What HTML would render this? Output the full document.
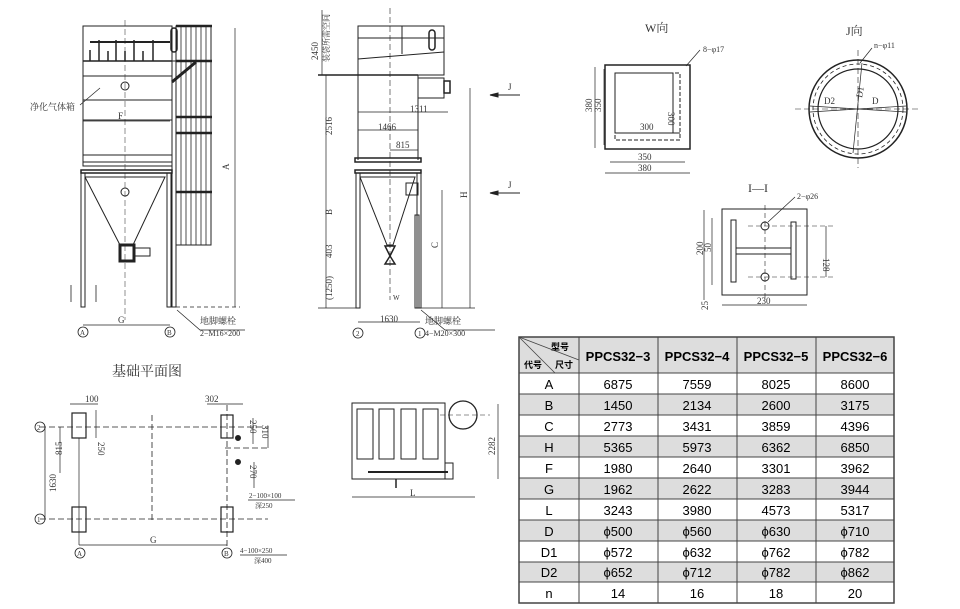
<!DOCTYPE html>
<html><head><meta charset="utf-8"><style>
html,body{margin:0;padding:0;background:#fff;width:960px;height:609px;overflow:hidden}
svg{display:block}
text{font-family:"Liberation Serif","Noto Serif CJK SC",serif;fill:#333}
.t{font-family:"Liberation Sans","Noto Sans CJK SC",sans-serif;fill:#000}
</style></head><body>
<svg width="960" height="609" viewBox="0 0 960 609" xmlns="http://www.w3.org/2000/svg">
<g stroke="#222" fill="none" stroke-width="1">
<!-- FRONT VIEW -->
<rect x="83" y="26" width="89" height="140"/>
<line x1="83" y1="61" x2="172" y2="61" stroke-width="1.5"/>
<line x1="83" y1="76" x2="172" y2="76"/>
<line x1="83" y1="100" x2="172" y2="100"/>
<line x1="83" y1="120" x2="172" y2="120"/>
<line x1="83" y1="155" x2="172" y2="155"/>
<line x1="83" y1="162" x2="172" y2="162"/>
<line x1="90" y1="42" x2="170" y2="42" stroke-width="2"/>
<g stroke-width="1.5"><line x1="99" y1="40" x2="99" y2="61"/><line x1="116" y1="40" x2="116" y2="61"/><line x1="134" y1="40" x2="134" y2="61"/><line x1="153" y1="40" x2="153" y2="61"/>
<line x1="90" y1="50" x2="90" y2="61"/><line x1="108" y1="51" x2="108" y2="61"/><line x1="125" y1="51" x2="125" y2="61"/><line x1="143" y1="51" x2="143" y2="61"/></g>
<rect x="171" y="28" width="6" height="24" rx="3" stroke-width="1.5"/>
<circle cx="125" cy="86" r="4"/><circle cx="125" cy="192" r="4"/>
<rect x="81" y="170" width="91" height="3" stroke-width="1.5"/>
<rect x="81" y="173" width="4" height="134"/><rect x="167" y="173" width="4" height="134"/>
<polyline points="85,177 165,177 133,245 120,245 85,177"/>
<rect x="120" y="245" width="14" height="16" stroke-width="3"/>
<rect x="135" y="248" width="15" height="8"/>
<rect x="176" y="26" width="35" height="219"/>
<g stroke-width="0.8"><line x1="181" y1="26" x2="181" y2="245"/><line x1="186" y1="26" x2="186" y2="245"/><line x1="191" y1="26" x2="191" y2="245"/><line x1="196" y1="26" x2="196" y2="245"/><line x1="201" y1="26" x2="201" y2="245"/><line x1="206" y1="26" x2="206" y2="245"/></g>
<g stroke-width="2.5"><line x1="176" y1="61" x2="212" y2="61"/><line x1="176" y1="117" x2="212" y2="117"/><line x1="176" y1="133" x2="212" y2="133"/><line x1="176" y1="192" x2="212" y2="192"/><line x1="176" y1="26" x2="212" y2="26"/></g>
<line x1="172" y1="82" x2="196" y2="62" stroke-width="3"/>
<rect x="172" y="61" width="4" height="246"/>
<line x1="235" y1="28" x2="235" y2="307" stroke-width="0.7"/>
<line x1="176" y1="307" x2="240" y2="307" stroke-dasharray="4,3" stroke-width="0.7"/>
<line x1="83" y1="325" x2="170" y2="325" stroke-width="0.7"/>
<line x1="83" y1="121" x2="170" y2="121" stroke-width="0.7"/>
<circle cx="83" cy="332" r="5" stroke-width="0.8"/><circle cx="170" cy="332" r="5" stroke-width="0.8"/>
<polyline points="177,310 200,330 245,330" stroke-width="0.7"/>
<line x1="80" y1="105" x2="100" y2="88" stroke-width="0.7"/>
<polyline points="71,285 71,302" stroke-width="0.8"/><polyline points="96,285 96,302" stroke-width="0.8"/>
<line x1="125" y1="20" x2="125" y2="320" stroke-dasharray="6,3" stroke-width="0.5"/>

<!-- SIDE VIEW -->
<rect x="358" y="26" width="86" height="49"/>
<line x1="358" y1="38" x2="444" y2="38"/><line x1="358" y1="59" x2="444" y2="52"/>
<line x1="402" y1="26" x2="402" y2="54"/>
<rect x="429" y="30" width="6" height="20" rx="3" stroke-width="1.5"/>
<line x1="318" y1="75" x2="418" y2="75" stroke-width="1.5"/>
<line x1="358" y1="75" x2="358" y2="160"/><line x1="418" y1="75" x2="418" y2="160"/>
<polyline points="418,78 444,78 444,98 418,98"/>
<rect x="444" y="81" width="6" height="12" stroke-width="1.5"/>
<rect x="355" y="158" width="66" height="4" stroke-width="1.5"/>
<rect x="355" y="170" width="66" height="3" stroke-width="1.5"/>
<rect x="356" y="173" width="4" height="135"/><rect x="417" y="173" width="4" height="135"/>
<polyline points="360,177 415,177 393,245 387,245 360,177"/>
<path d="M385,246 h10 l-5,10 l5,8 h-10 l5,-8 z" stroke-width="1.5"/>
<rect x="406" y="183" width="12" height="12"/>
<rect x="415" y="215" width="4" height="93"/>
<line x1="390" y1="8" x2="390" y2="300" stroke-dasharray="6,3" stroke-width="0.6"/>
<line x1="470" y1="88" x2="470" y2="308" stroke-width="0.7"/>
<line x1="442" y1="190" x2="442" y2="308" stroke-width="0.7"/>
<line x1="421" y1="308" x2="475" y2="308" stroke-width="0.7"/>
<line x1="326" y1="75" x2="326" y2="308" stroke-width="0.7"/>
<line x1="318" y1="308" x2="356" y2="308" stroke-width="0.7"/>
<line x1="322" y1="10" x2="322" y2="75" stroke-width="0.7"/>
<line x1="358" y1="112" x2="448" y2="112" stroke-width="0.7"/>
<line x1="358" y1="130" x2="418" y2="130" stroke-width="0.7"/>
<line x1="390" y1="150" x2="418" y2="150" stroke-width="0.7"/>
<line x1="358" y1="322" x2="420" y2="322" stroke-width="0.7"/>
<circle cx="358" cy="333" r="5" stroke-width="0.8"/><circle cx="420" cy="333" r="5" stroke-width="0.8"/>
<polyline points="421,310 445,330 495,330" stroke-width="0.7"/>
<line x1="490" y1="95" x2="520" y2="95"/><line x1="490" y1="193" x2="520" y2="193"/>
<polygon points="490,95 498,93 498,97" fill="#222"/><polygon points="490,193 498,191 498,195" fill="#222"/>

<!-- W view -->
<rect x="605" y="65" width="85" height="84" stroke-width="1.5"/>
<rect x="615" y="73" width="65" height="67" stroke-dasharray="4,2"/>
<rect x="615" y="73" width="58" height="60"/>
<line x1="615" y1="133" x2="680" y2="133"/>
<line x1="595" y1="67" x2="595" y2="148" stroke-width="0.7"/><line x1="604" y1="69" x2="604" y2="145" stroke-width="0.7"/>
<line x1="610" y1="162" x2="685" y2="162" stroke-width="0.7"/><line x1="605" y1="173" x2="690" y2="173" stroke-width="0.7"/>
<line x1="686" y1="66" x2="700" y2="50" stroke-width="0.7"/>
<!-- J view -->
<circle cx="858" cy="109" r="49" stroke-width="1.5"/><circle cx="858" cy="109" r="40" stroke-width="1.2"/>
<circle cx="858" cy="109" r="45" stroke-dasharray="4,3" stroke-width="0.8"/>
<line x1="795" y1="109" x2="920" y2="109" stroke-dasharray="6,3" stroke-width="0.6"/>
<line x1="858" y1="50" x2="858" y2="168" stroke-dasharray="6,3" stroke-width="0.6"/>
<line x1="862" y1="63" x2="853" y2="153" stroke-width="0.7"/>
<line x1="810" y1="106" x2="906" y2="112" stroke-width="0.7"/><line x1="810" y1="112" x2="906" y2="106" stroke-width="0.7"/>
<line x1="860" y1="63" x2="872" y2="48" stroke-width="0.7"/>
<!-- I-I -->
<rect x="722" y="209" width="85" height="86"/>
<rect x="731" y="220" width="5" height="62"/><rect x="791" y="222" width="5" height="57"/>
<rect x="736" y="248" width="55" height="6"/>
<circle cx="765" cy="226" r="4"/><circle cx="765" cy="277" r="4"/>
<line x1="765" y1="205" x2="765" y2="300" stroke-dasharray="5,3" stroke-width="0.6"/>
<line x1="748" y1="226" x2="835" y2="226" stroke-dasharray="5,3" stroke-width="0.6"/><line x1="748" y1="277" x2="835" y2="277" stroke-dasharray="5,3" stroke-width="0.6"/>
<line x1="704" y1="210" x2="704" y2="300" stroke-width="0.7"/><line x1="712" y1="218" x2="712" y2="285" stroke-width="0.7"/>
<line x1="826" y1="226" x2="826" y2="277" stroke-width="0.7"/>
<line x1="722" y1="305" x2="807" y2="305" stroke-width="0.7"/>
<line x1="768" y1="222" x2="795" y2="197" stroke-width="0.7"/>

<!-- FOUNDATION -->
<g stroke-dasharray="6,3" stroke-width="0.8">
<line x1="40" y1="427" x2="268" y2="427"/><line x1="40" y1="519" x2="268" y2="519"/>
<line x1="152" y1="415" x2="152" y2="520"/><line x1="227" y1="405" x2="227" y2="548"/>
<line x1="225" y1="448" x2="268" y2="448"/>
</g>
<rect x="72" y="413" width="14" height="25" stroke-width="1.2"/><rect x="72" y="507" width="14" height="25" stroke-width="1.2"/>
<rect x="221" y="415" width="12" height="23" stroke-width="1.2"/><rect x="221" y="507" width="12" height="25" stroke-width="1.2"/>
<line x1="79" y1="438" x2="79" y2="545" stroke-width="0.7"/>
<line x1="79" y1="545" x2="227" y2="545" stroke-width="0.7"/>
<line x1="45" y1="427" x2="45" y2="519" stroke-width="0.7"/><line x1="60" y1="427" x2="60" y2="473" stroke-width="0.7"/>
<line x1="96" y1="410" x2="96" y2="438" stroke-width="0.7"/>
<line x1="70" y1="404" x2="98" y2="404" stroke-width="0.7"/><line x1="207" y1="404" x2="243" y2="404" stroke-width="0.7"/>
<line x1="253" y1="418" x2="253" y2="444" stroke-width="0.7"/><line x1="268" y1="426" x2="268" y2="448" stroke-width="0.7"/>
<line x1="254" y1="462" x2="254" y2="488" stroke-width="0.7"/>
<circle cx="238" cy="438" r="2.5" fill="#222"/><circle cx="238" cy="462" r="2.5" fill="#222"/>
<line x1="248" y1="500" x2="295" y2="500" stroke-width="0.7"/><line x1="240" y1="555" x2="287" y2="555" stroke-width="0.7"/>
<circle cx="40" cy="427" r="5" stroke-width="0.8"/><circle cx="40" cy="519" r="5" stroke-width="0.8"/>
<circle cx="80" cy="553" r="5" stroke-width="0.8"/><circle cx="227" cy="553" r="5" stroke-width="0.8"/>

<!-- bottom-mid box -->
<rect x="352" y="403" width="93" height="76"/>
<line x1="445" y1="463" x2="445" y2="479"/><rect x="445" y="463" width="8" height="16"/>
<rect x="357" y="409" width="16" height="50"/><rect x="379" y="409" width="15" height="50"/><rect x="401" y="409" width="15" height="50"/><rect x="423" y="409" width="15" height="50"/>
<circle cx="463" cy="415" r="14" stroke-width="1.3"/>
<line x1="368" y1="472" x2="448" y2="472" stroke-width="2"/>
<line x1="352" y1="497" x2="475" y2="497" stroke-width="0.7"/>
<line x1="498" y1="404" x2="498" y2="479" stroke-width="0.7"/>
<line x1="440" y1="415" x2="490" y2="415" stroke-dasharray="5,3" stroke-width="0.6"/>
<line x1="396" y1="479" x2="396" y2="488" stroke-width="1.5"/>
</g>

<g font-size="9">
<text x="645" y="32" font-size="12">W向</text>
<text x="846" y="35" font-size="12">J向</text>
<text x="748" y="192" font-size="12">I—I</text>
<text x="112" y="376" font-size="14">基础平面图</text>
<text x="30" y="110" font-size="9">净化气体箱</text>
<text x="118" y="119">F</text>
<text x="118" y="323">G</text>
<text x="229" y="170" transform="rotate(-90 229 170)">A</text>
<text x="200" y="324" font-size="9">地脚螺栓</text>
<text x="200" y="336" font-size="8">2−M16×200</text>
<text x="80" y="335" font-size="7">A</text><text x="167" y="335" font-size="7">B</text>
<text x="356" y="336" font-size="7">2</text><text x="418" y="336" font-size="7">1</text>
<text x="380" y="322">1630</text>
<text x="425" y="324">地脚螺栓</text>
<text x="425" y="336" font-size="8">4−M20×300</text>
<text x="318" y="60" transform="rotate(-90 318 60)">2450 </text>
<text x="329" y="62" transform="rotate(-90 329 62)" font-size="8">装袋所需空间</text>
<text x="332" y="135" transform="rotate(-90 332 135)">2516</text>
<text x="332" y="215" transform="rotate(-90 332 215)">B</text>
<text x="332" y="258" transform="rotate(-90 332 258)">403</text>
<text x="332" y="300" transform="rotate(-90 332 300)">(1250)</text>
<text x="410" y="112">1311</text><text x="378" y="130">1466</text><text x="396" y="148">815</text>
<text x="438" y="248" transform="rotate(-90 438 248)">C</text>
<text x="467" y="198" transform="rotate(-90 467 198)">H</text>
<text x="508" y="90">J</text><text x="508" y="188">J</text>
<text x="393" y="300" font-size="7">W</text>
<text x="703" y="52" font-size="8">8−φ17</text>
<text x="874" y="48" font-size="8">n−φ11</text>
<text x="592" y="112" transform="rotate(-90 592 112)">380</text>
<text x="601" y="112" transform="rotate(-90 601 112)">350</text>
<text x="668" y="112" transform="rotate(90 668 112)">300</text>
<text x="640" y="130">300</text>
<text x="638" y="160">350</text><text x="638" y="171">380</text>
<text x="824" y="104">D2</text><text x="872" y="104">D</text>
<text x="862" y="98" transform="rotate(-80 862 98)">D1</text>
<text x="797" y="199" font-size="8">2−φ26</text>
<text x="703" y="255" transform="rotate(-90 703 255)">200</text>
<text x="711" y="252" transform="rotate(-90 711 252)">50</text>
<text x="823" y="258" transform="rotate(90 823 258)">128</text>
<text x="708" y="310" transform="rotate(-90 708 310)">25</text>
<text x="757" y="304">230</text>
<text x="85" y="402">100</text><text x="205" y="402">302</text>
<text x="56" y="492" transform="rotate(-90 56 492)">1630</text>
<text x="62" y="455" transform="rotate(-90 62 455)">815</text>
<text x="98" y="442" transform="rotate(90 98 442)">250</text>
<text x="250" y="420" transform="rotate(90 250 420)">250</text>
<text x="262" y="425" transform="rotate(90 262 425)">310</text>
<text x="250" y="465" transform="rotate(90 250 465)">270</text>
<text x="150" y="543">G</text>
<text x="249" y="498" font-size="7">2−100×100</text><text x="255" y="508" font-size="7">深250</text>
<text x="240" y="553" font-size="7">4−100×250</text><text x="254" y="563" font-size="7">深400</text>
<text x="37" y="430" font-size="7">2</text><text x="37" y="522" font-size="7">1</text>
<text x="77" y="556" font-size="7">A</text><text x="224" y="556" font-size="7">B</text>
<text x="410" y="496">L</text>
<text x="495" y="455" transform="rotate(-90 495 455)">2282</text>
</g>

<!-- TABLE -->
<g>
<rect x="519" y="337" width="375" height="36" fill="#ddd"/>
<rect x="519" y="394" width="375" height="21" fill="#ddd"/>
<rect x="519" y="436" width="375" height="21" fill="#ddd"/>
<rect x="519" y="478" width="375" height="21" fill="#ddd"/>
<rect x="519" y="520" width="375" height="21" fill="#ddd"/>
<rect x="519" y="562" width="375" height="20" fill="#ddd"/>
<g stroke="#444" stroke-width="1">
<rect x="519" y="337" width="375" height="266" fill="none" stroke-width="1.5"/>
<line x1="579" y1="337" x2="579" y2="603"/><line x1="658" y1="337" x2="658" y2="603"/>
<line x1="737" y1="337" x2="737" y2="603"/><line x1="816" y1="337" x2="816" y2="603"/>
<line x1="519" y1="373" x2="894" y2="373"/>
<line x1="519" y1="394" x2="894" y2="394"/><line x1="519" y1="415" x2="894" y2="415"/>
<line x1="519" y1="436" x2="894" y2="436"/><line x1="519" y1="457" x2="894" y2="457"/>
<line x1="519" y1="478" x2="894" y2="478"/><line x1="519" y1="499" x2="894" y2="499"/>
<line x1="519" y1="520" x2="894" y2="520"/><line x1="519" y1="541" x2="894" y2="541"/>
<line x1="519" y1="562" x2="894" y2="562"/><line x1="519" y1="582" x2="894" y2="582"/>
<line x1="519" y1="337" x2="579" y2="360" stroke-width="0.8"/><line x1="519" y1="337" x2="555" y2="373" stroke-width="0.8"/>
</g>
<g class="t" font-size="13" text-anchor="middle">
<text class="t" x="560" y="350" font-size="9" font-weight="bold">型号</text>
<text class="t" x="533" y="368" font-size="9" font-weight="bold">代号</text>
<text class="t" x="564" y="368" font-size="9" font-weight="bold">尺寸</text>
<text class="t" x="618" y="361" font-weight="bold">PPCS32−3</text>
<text class="t" x="697" y="361" font-weight="bold">PPCS32−4</text>
<text class="t" x="776" y="361" font-weight="bold">PPCS32−5</text>
<text class="t" x="855" y="361" font-weight="bold">PPCS32−6</text>
</g>
<g font-size="13" text-anchor="middle">
<text class="t" x="549" y="389">A</text><text class="t" x="618" y="389">6875</text><text class="t" x="697" y="389">7559</text><text class="t" x="776" y="389">8025</text><text class="t" x="855" y="389">8600</text>
<text class="t" x="549" y="410">B</text><text class="t" x="618" y="410">1450</text><text class="t" x="697" y="410">2134</text><text class="t" x="776" y="410">2600</text><text class="t" x="855" y="410">3175</text>
<text class="t" x="549" y="431">C</text><text class="t" x="618" y="431">2773</text><text class="t" x="697" y="431">3431</text><text class="t" x="776" y="431">3859</text><text class="t" x="855" y="431">4396</text>
<text class="t" x="549" y="452">H</text><text class="t" x="618" y="452">5365</text><text class="t" x="697" y="452">5973</text><text class="t" x="776" y="452">6362</text><text class="t" x="855" y="452">6850</text>
<text class="t" x="549" y="473">F</text><text class="t" x="618" y="473">1980</text><text class="t" x="697" y="473">2640</text><text class="t" x="776" y="473">3301</text><text class="t" x="855" y="473">3962</text>
<text class="t" x="549" y="494">G</text><text class="t" x="618" y="494">1962</text><text class="t" x="697" y="494">2622</text><text class="t" x="776" y="494">3283</text><text class="t" x="855" y="494">3944</text>
<text class="t" x="549" y="515">L</text><text class="t" x="618" y="515">3243</text><text class="t" x="697" y="515">3980</text><text class="t" x="776" y="515">4573</text><text class="t" x="855" y="515">5317</text>
<text class="t" x="549" y="536">D</text><text class="t" x="618" y="536">ϕ500</text><text class="t" x="697" y="536">ϕ560</text><text class="t" x="776" y="536">ϕ630</text><text class="t" x="855" y="536">ϕ710</text>
<text class="t" x="549" y="557">D1</text><text class="t" x="618" y="557">ϕ572</text><text class="t" x="697" y="557">ϕ632</text><text class="t" x="776" y="557">ϕ762</text><text class="t" x="855" y="557">ϕ782</text>
<text class="t" x="549" y="577">D2</text><text class="t" x="618" y="577">ϕ652</text><text class="t" x="697" y="577">ϕ712</text><text class="t" x="776" y="577">ϕ782</text><text class="t" x="855" y="577">ϕ862</text>
<text class="t" x="549" y="598">n</text><text class="t" x="618" y="598">14</text><text class="t" x="697" y="598">16</text><text class="t" x="776" y="598">18</text><text class="t" x="855" y="598">20</text>
</g>
</g>
</svg>
</body></html>
